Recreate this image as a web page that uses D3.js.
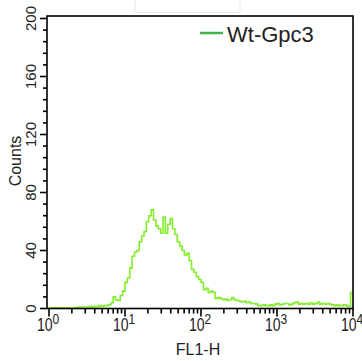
<!doctype html>
<html lang="en">
<head>
  <meta charset="utf-8">
  <title>FL1-H histogram</title>
  <style>
    * { margin: 0; padding: 0; box-sizing: border-box; }
    body { background: #fff; }
    #container { width: 362px; height: 361px; }
    text { font-family: "Liberation Sans", Arial, sans-serif; fill: #222; }
  </style>
</head>
<body>
  <div id="container"></div>
  <script src="https://cdn.jsdelivr.net/npm/d3@7"></script>
  <script>
    // 128 log channels over 4 decades (2 raw channels per bin)
    const counts = [
      0.5,0.5,0.5,0.5,0.5,0.5,0.5,0.5,0.5,0.5,0.5,0.5,1,1,1,1,
      1,1.5,1,1.5,1.5,2,1.5,2,2,2.5,4,8,6,5.5,9,12,
      18,21,28,36,39,40,46,50,53,60,64,68,61,57,55,52,
      63,52,58,62,55,51,46,43,40,37,38,33,27,25,22,20,
      18,13,14,11,12,11,7,7.5,7,6,6.5,5.5,6,7.5,6,5.5,
      5,4.5,5,4,4.5,3.5,3.5,3,2,2,2.5,2,2,2.5,2,3,
      3.5,2.5,3,3.5,3.5,2.5,3,4,4.5,3,3.5,3,3.5,3,4,3,
      3.5,4.5,3,3.5,3,3.5,3,2.5,2,2.5,2,2,2.5,2,1.5,11
    ];
    const binsPerDecade = 32;
    const decades = [1, 10, 100, 1000, 10000];
    const yTicks = [0, 40, 80, 120, 160, 200];
    const seriesName = 'Wt-Gpc3';

    const W = 362, H = 361;
    const svg = d3.select('#container').append('svg').attr('width', W).attr('height', H);

    const x = d3.scaleLog().domain([1, 10000]).range([49, 353]);
    const y = d3.scaleLinear().domain([0, 200]).range([308.5, 18.5]);

    // faint box at the top
    svg.append('rect').attr('x', 135).attr('y', -2).attr('width', 105).attr('height', 14.5)
      .attr('fill', 'none').attr('stroke', '#ececec').attr('stroke-width', 1.2);

    // histogram
    const pts = counts.map((c, i) => [Math.pow(10, i / binsPerDecade), c]);
    pts.push([10000, counts[counts.length - 1]]);
    const line = d3.line().x(d => x(d[0])).y(d => y(d[1])).curve(d3.curveStepAfter);
    svg.append('path').datum(pts).attr('d', line)
      .attr('fill', 'none').attr('stroke', '#82ee2c').attr('stroke-width', 1.6);

    // frame
    svg.append('rect').attr('x', 47).attr('y', 16).attr('width', x(10000) - 47).attr('height', y(0) - 16)
      .attr('fill', 'none').attr('stroke', '#000').attr('stroke-width', 1.6);

    // y axis ticks
    const yMinor = d3.range(0, 201, 8);
    svg.append('g').selectAll('line').data(yMinor).join('line')
      .attr('x1', 47).attr('x2', d => d % 40 === 0 ? 40 : 43)
      .attr('y1', d => y(d)).attr('y2', d => y(d))
      .attr('stroke', '#000').attr('stroke-width', 1.6);
    svg.append('g').selectAll('text').data(yTicks).join('text')
      .attr('transform', d => `translate(36,${y(d)}) rotate(-90)`)
      .attr('text-anchor', 'middle').style('font-size', '15px').text(d => d);
    svg.append('text').attr('transform', 'translate(20.5,161) rotate(-90)')
      .attr('text-anchor', 'middle').style('font-size', '16px').text('Counts');

    // x axis ticks
    const xMinor = [];
    decades.slice(0, -1).forEach(d => { for (let k = 2; k <= 9; k++) xMinor.push(d * k); });
    svg.append('g').selectAll('line').data(decades.concat(xMinor)).join('line')
      .attr('x1', d => x(d)).attr('x2', d => x(d))
      .attr('y1', y(0)).attr('y2', d => decades.includes(d) ? y(0) + 8 : y(0) + 5)
      .attr('stroke', '#000').attr('stroke-width', 1.6);
    const xl = svg.append('g').selectAll('g').data(decades).join('g')
      .attr('transform', d => `translate(${x(d) - 1},331) scale(0.8,1)`);
    const xt = xl.append('text').attr('text-anchor', 'middle').style('font-size', '17.5px');
    xt.append('tspan').text('10');
    xt.append('tspan').attr('dy', -7.5).style('font-size', '15px').text((d, i) => i);
    svg.append('text').attr('x', 198).attr('y', 355).attr('text-anchor', 'middle')
      .style('font-size', '16px').text('FL1-H');

    // legend
    svg.append('line').attr('x1', 200).attr('x2', 223).attr('y1', 33).attr('y2', 33)
      .attr('stroke', '#3db54a').attr('stroke-width', 2.5);
    svg.append('text').attr('x', 227).attr('y', 41.5).style('font-size', '22px').text(seriesName);
  </script>
</body>
</html>
